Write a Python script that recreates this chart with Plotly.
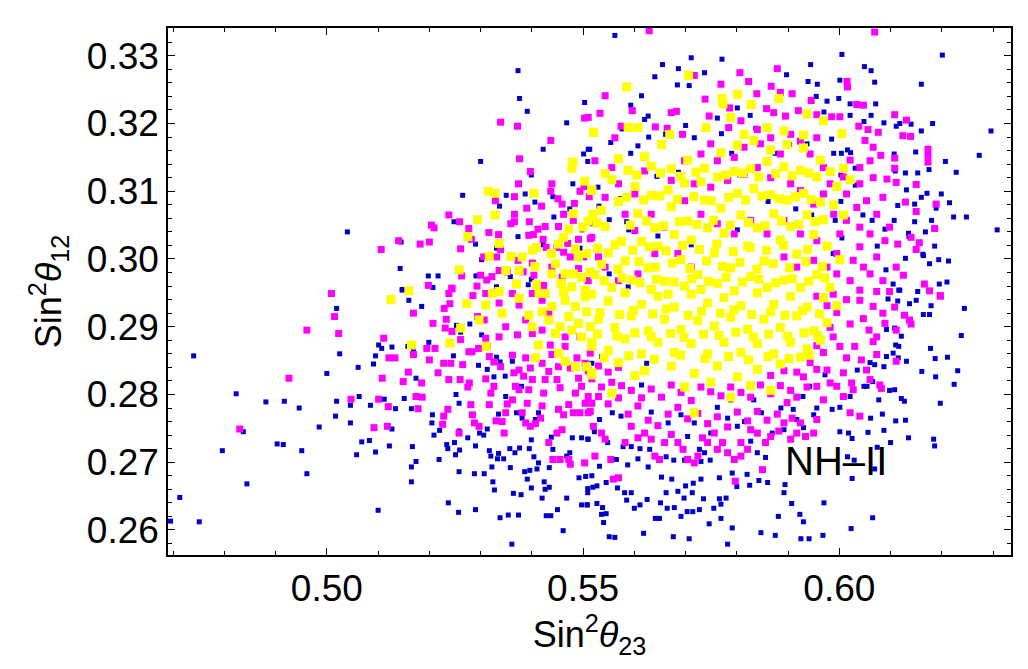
import plotly.graph_objects as go

# points (sin^2 theta23, sin^2 theta12)
blue_pts = [
    (0.5373, 0.3278), (0.5376, 0.3237), (0.5391, 0.3218), (0.5503, 0.3231), (0.5468, 0.3201),
    (0.5422, 0.3162), (0.5510, 0.3162), (0.5501, 0.3155), (0.5509, 0.3144), (0.5300, 0.3144),
    (0.5399, 0.3124), (0.5480, 0.3111), (0.5350, 0.3094), (0.5387, 0.3096), (0.5406, 0.3084),
    (0.5337, 0.3078), (0.5265, 0.3094), (0.5441, 0.3092), (0.5443, 0.3062), (0.5474, 0.3074),
    (0.5248, 0.3055), (0.5040, 0.3040), (0.5145, 0.3025), (0.5290, 0.3022), (0.5373, 0.3033),
    (0.5422, 0.3021), (0.5331, 0.3016), (0.5302, 0.2999), (0.5143, 0.2986), (0.5198, 0.2975),
    (0.5217, 0.2975), (0.5291, 0.2975), (0.5147, 0.2954), (0.5207, 0.2958), (0.5331, 0.2959),
    (0.5358, 0.2974), (0.5393, 0.2962), (0.5399, 0.2970), (0.5498, 0.3043), (0.5494, 0.3016),
    (0.5562, 0.3330), (0.5711, 0.3297), (0.5771, 0.3295), (0.5655, 0.3287), (0.5686, 0.3281),
    (0.5640, 0.3269), (0.5737, 0.3275), (0.5684, 0.3257), (0.5707, 0.3256), (0.5614, 0.3241),
    (0.5593, 0.3227), (0.5627, 0.3211), (0.5620, 0.3206), (0.5897, 0.3272), (0.5944, 0.3287),
    (0.6005, 0.3302), (0.6201, 0.3301), (0.6049, 0.3284), (0.6062, 0.3278), (0.6069, 0.3261),
    (0.6001, 0.3264), (0.5957, 0.3258), (0.5939, 0.3262), (0.6160, 0.3258), (0.5955, 0.3240),
    (0.5976, 0.3233), (0.5999, 0.3237), (0.6021, 0.3229), (0.6071, 0.3229), (0.5970, 0.3217),
    (0.6021, 0.3212), (0.6062, 0.3212), (0.6048, 0.3203), (0.6087, 0.3201), (0.6111, 0.3196),
    (0.6118, 0.3200), (0.6140, 0.3199), (0.6182, 0.3200), (0.6160, 0.3189), (0.6296, 0.3189),
    (0.6273, 0.3153), (0.6207, 0.3144), (0.6228, 0.3128), (0.6149, 0.3158), (0.6175, 0.3132),
    (0.6153, 0.3127), (0.6129, 0.3127), (0.6109, 0.3130), (0.6107, 0.3155), (0.6131, 0.3102),
    (0.6171, 0.3097), (0.6199, 0.3096), (0.6215, 0.3083), (0.6160, 0.3091), (0.6114, 0.3079),
    (0.6147, 0.3081), (0.6189, 0.3075), (0.6223, 0.3062), (0.6248, 0.3062), (0.6308, 0.3043),
    (0.6180, 0.3057), (0.6147, 0.3055), (0.6107, 0.3057), (0.6168, 0.3040), (0.6135, 0.3038),
    (0.6136, 0.3033), (0.6089, 0.3044), (0.6186, 0.3019), (0.6163, 0.3007), (0.6164, 0.3005),
    (0.6194, 0.2999), (0.6213, 0.2997), (0.6129, 0.3001), (0.6176, 0.2993), (0.6210, 0.2966),
    (0.6195, 0.2963), (0.6105, 0.2963), (0.6116, 0.2954), (0.6091, 0.2984), (0.6074, 0.3019),
    (0.6064, 0.3057), (0.6004, 0.3156), (0.6022, 0.3157), (0.5989, 0.3156), (0.6016, 0.3161),
    (0.6031, 0.3134), (0.6003, 0.3124), (0.6031, 0.3109), (0.6003, 0.3085), (0.6046, 0.3065),
    (0.5985, 0.3177), (0.5937, 0.3170), (0.5903, 0.3169), (0.5826, 0.3212), (0.5801, 0.3223),
    (0.5770, 0.3185), (0.5837, 0.3193), (0.5717, 0.3179), (0.5700, 0.3197), (0.5661, 0.3184),
    (0.5628, 0.3180), (0.5607, 0.3167), (0.5576, 0.3192), (0.5554, 0.3172), (0.5513, 0.3162),
    (0.5593, 0.3156), (0.5644, 0.3122), (0.5686, 0.3128), (0.5762, 0.3208), (0.5790, 0.3156),
    (0.5806, 0.3124), (0.5529, 0.3106), (0.5531, 0.3078), (0.5551, 0.3058), (0.5585, 0.3055),
    (0.5589, 0.3043), (0.5518, 0.3052), (0.5573, 0.3089), (0.5875, 0.3156), (0.5861, 0.3085),
    (0.5915, 0.3074), (0.5946, 0.3065), (0.5992, 0.3057), (0.6005, 0.3031), (0.5988, 0.3008),
    (0.5711, 0.3021), (0.5801, 0.3043), (0.5646, 0.3034), (0.5551, 0.2978), (0.5588, 0.2959),
    (0.4740, 0.2857), (0.4713, 0.2648), (0.4751, 0.2612), (0.4695, 0.2613), (0.4823, 0.2801),
    (0.4837, 0.2745), (0.4796, 0.2717), (0.4844, 0.2668), (0.4881, 0.2789), (0.4917, 0.2790),
    (0.4946, 0.2780), (0.4903, 0.2727), (0.4915, 0.2726), (0.4951, 0.2717), (0.4961, 0.2683),
    (0.4985, 0.2752), (0.5000, 0.2831), (0.5019, 0.2927), (0.5025, 0.2860), (0.5019, 0.2790),
    (0.5017, 0.2768), (0.5046, 0.2784), (0.5046, 0.2758), (0.5061, 0.2840), (0.5063, 0.2797),
    (0.5085, 0.2784), (0.5058, 0.2711), (0.5068, 0.2730), (0.5083, 0.2732), (0.5095, 0.2715),
    (0.5091, 0.2845), (0.5095, 0.2857), (0.5101, 0.2873), (0.5107, 0.2868), (0.5127, 0.2870),
    (0.5112, 0.2793), (0.5134, 0.2779), (0.5127, 0.2749), (0.5122, 0.2724), (0.5100, 0.2629),
    (0.5147, 0.2955), (0.5160, 0.2939), (0.5185, 0.2930), (0.5158, 0.2871), (0.5169, 0.2866),
    (0.5174, 0.2824), (0.5151, 0.2794), (0.5165, 0.2779), (0.5167, 0.2723), (0.5165, 0.2693),
    (0.5165, 0.2671), (0.5174, 0.2701), (0.5199, 0.2877), (0.5206, 0.2770), (0.5205, 0.2758),
    (0.5209, 0.2740), (0.5219, 0.2704), (0.5220, 0.2747), (0.5237, 0.2640), (0.5234, 0.2726),
    (0.5236, 0.2720), (0.5249, 0.2729), (0.5251, 0.2711), (0.5258, 0.2686), (0.5257, 0.2626),
    (0.5253, 0.2902), (0.5261, 0.2892), (0.5247, 0.2857), (0.5252, 0.2800), (0.5258, 0.2787),
    (0.5258, 0.2746), (0.5259, 0.2718), (0.5275, 0.2736), (0.5279, 0.2904), (0.5290, 0.2724),
    (0.5288, 0.2683), (0.5290, 0.2630), (0.5296, 0.2843), (0.5298, 0.2743), (0.5302, 0.2888),
    (0.5306, 0.2740), (0.5307, 0.2683), (0.5313, 0.2749), (0.5317, 0.2717), (0.5320, 0.2709),
    (0.5322, 0.2693), (0.5324, 0.2671), (0.5327, 0.2659), (0.5313, 0.2837), (0.5326, 0.2826),
    (0.5331, 0.2855), (0.5333, 0.2705), (0.5335, 0.2713), (0.5335, 0.2771), (0.5338, 0.2618),
    (0.5345, 0.2705), (0.5348, 0.2827), (0.5349, 0.2797), (0.5354, 0.2622), (0.5357, 0.2720),
    (0.5358, 0.2692), (0.5361, 0.2579), (0.5364, 0.2654), (0.5367, 0.2714), (0.5370, 0.2773),
    (0.5374, 0.2622), (0.5376, 0.2721), (0.5379, 0.2652), (0.5380, 0.2812), (0.5386, 0.2686),
    (0.5391, 0.2675), (0.5396, 0.2688), (0.5395, 0.2720), (0.5399, 0.2733), (0.5399, 0.2662),
    (0.5404, 0.2708), (0.5410, 0.2690), (0.5413, 0.2699), (0.5420, 0.2647), (0.5424, 0.2671),
    (0.5426, 0.2660), (0.5428, 0.2621), (0.5434, 0.2663), (0.5437, 0.2621), (0.5434, 0.2692),
    (0.5441, 0.2719), (0.5438, 0.2737), (0.5450, 0.2630), (0.5461, 0.2599), (0.5468, 0.2647),
    (0.5468, 0.2709), (0.5474, 0.2714), (0.5479, 0.2736), (0.5497, 0.2637), (0.5508, 0.2637),
    (0.5509, 0.2655), (0.5505, 0.2679), (0.5492, 0.2677), (0.5519, 0.2663), (0.5497, 0.2736),
    (0.5509, 0.2734), (0.5407, 0.2763), (0.5413, 0.2773), (0.5381, 0.2765), (0.5338, 0.2848),
    (0.5362, 0.2849),
    (0.6244, 0.2927), (0.6238, 0.2887), (0.6231, 0.2835), (0.6224, 0.2815), (0.6211, 0.2855),
    (0.6187, 0.2853), (0.6188, 0.2826), (0.6178, 0.2868), (0.6197, 0.2787), (0.6161, 0.2834),
    (0.6184, 0.2734), (0.6186, 0.2724), (0.6176, 0.2918), (0.6164, 0.2918), (0.6153, 0.2952),
    (0.6179, 0.2931), (0.6135, 0.2736), (0.6129, 0.2762), (0.6110, 0.2761), (0.6100, 0.2729),
    (0.6087, 0.2747), (0.6084, 0.2771), (0.6127, 0.2790), (0.6121, 0.2794), (0.6108, 0.2807),
    (0.6098, 0.2806), (0.6077, 0.2792), (0.6061, 0.2765), (0.6056, 0.2744), (0.6065, 0.2618),
    (0.6023, 0.2602), (0.6069, 0.2690), (0.6074, 0.2722), (0.6025, 0.2676), (0.6016, 0.2708),
    (0.6029, 0.2703), (0.6025, 0.2735), (0.6018, 0.2743), (0.6001, 0.2745), (0.5970, 0.2640),
    (0.5968, 0.2592), (0.5930, 0.2612), (0.5923, 0.2623), (0.5941, 0.2587), (0.5925, 0.2587),
    (0.5907, 0.2639), (0.5881, 0.2620), (0.5875, 0.2592), (0.5847, 0.2596), (0.5892, 0.2655),
    (0.5894, 0.2667), (0.5860, 0.2670), (0.5843, 0.2673), (0.5825, 0.2666), (0.5820, 0.2682),
    (0.5782, 0.2579), (0.5791, 0.2603), (0.5769, 0.2617), (0.5746, 0.2609), (0.5707, 0.2587),
    (0.5676, 0.2590), (0.5618, 0.2595), (0.5562, 0.2589), (0.5551, 0.2590), (0.5540, 0.2611),
    (0.5536, 0.2623), (0.5545, 0.2624), (0.5538, 0.2633), (0.5527, 0.2639), (0.5508, 0.2637),
    (0.5585, 0.2644), (0.5611, 0.2637), (0.5600, 0.2632), (0.5641, 0.2617), (0.5649, 0.2617),
    (0.5664, 0.2632), (0.5678, 0.2633), (0.5691, 0.2620), (0.5703, 0.2627), (0.5714, 0.2627),
    (0.5727, 0.2630), (0.5755, 0.2632), (0.5769, 0.2638), (0.5779, 0.2647), (0.5766, 0.2646),
    (0.5735, 0.2646), (0.5713, 0.2655), (0.5697, 0.2647), (0.5685, 0.2657), (0.5662, 0.2655),
    (0.5651, 0.2640), (0.5625, 0.2645), (0.5594, 0.2655), (0.5581, 0.2655), (0.5567, 0.2662),
    (0.5545, 0.2670), (0.5527, 0.2665), (0.5509, 0.2661), (0.5517, 0.2680), (0.5532, 0.2694),
    (0.5565, 0.2704), (0.5587, 0.2696), (0.5607, 0.2705), (0.5627, 0.2693), (0.5653, 0.2678),
    (0.5673, 0.2675), (0.5700, 0.2665), (0.5715, 0.2669), (0.5730, 0.2675), (0.5766, 0.2677),
    (0.5800, 0.2664), (0.5791, 0.2684), (0.5748, 0.2703), (0.5730, 0.2701), (0.5698, 0.2703),
    (0.5677, 0.2703), (0.5662, 0.2708), (0.5630, 0.2719), (0.5611, 0.2720), (0.5594, 0.2723),
    (0.5578, 0.2723), (0.5548, 0.2729), (0.5522, 0.2745), (0.5510, 0.2734), (0.5532, 0.2763),
    (0.5557, 0.2773), (0.5574, 0.2768), (0.5633, 0.2774), (0.5666, 0.2758), (0.5691, 0.2770),
    (0.5717, 0.2758), (0.5749, 0.2743), (0.5782, 0.2765), (0.5801, 0.2753), (0.5827, 0.2731),
    (0.5840, 0.2714), (0.5856, 0.2707), (0.5869, 0.2743), (0.5892, 0.2748), (0.5917, 0.2763),
    (0.5930, 0.2751), (0.5950, 0.2770), (0.5956, 0.2780), (0.5986, 0.2778), (0.6001, 0.2781),
    (0.6021, 0.2797), (0.6048, 0.2812), (0.6054, 0.2812), (0.6065, 0.2819), (0.6069, 0.2844),
    (0.6087, 0.2841), (0.6092, 0.2856), (0.6105, 0.2861), (0.6115, 0.2854), (0.6131, 0.2849),
    (0.6116, 0.2871), (0.6110, 0.2873), (0.6121, 0.2886), (0.6108, 0.2898), (0.6092, 0.2896),
    (0.6118, 0.2954), (0.6114, 0.2938), (0.6095, 0.2941), (0.6150, 0.2939), (0.6137, 0.2910),
    (0.6137, 0.2934), (0.6035, 0.2836), (0.6060, 0.2847), (0.5972, 0.2829), (0.5942, 0.2812),
    (0.5929, 0.2797), (0.5910, 0.2778), (0.5886, 0.2780), (0.5848, 0.2773), (0.5833, 0.2792),
    (0.5815, 0.2760), (0.5788, 0.2792), (0.5762, 0.2781), (0.5704, 0.2738), (0.5727, 0.2719),
    (0.5737, 0.2714), (0.5614, 0.2814), (0.5591, 0.2855), (0.5624, 0.2846), (0.5536, 0.2856),
    (0.5517, 0.2846),
]

magenta_pts = [
    (0.5339, 0.3202), (0.5372, 0.3196), (0.5503, 0.3208), (0.5437, 0.3175), (0.5376, 0.3148),
    (0.5397, 0.3129), (0.5374, 0.3111), (0.5439, 0.3111), (0.5366, 0.3092), (0.5329, 0.3086),
    (0.5390, 0.3075), (0.5419, 0.3078), (0.5437, 0.3100), (0.5451, 0.3089), (0.5459, 0.3081),
    (0.5494, 0.3100), (0.5502, 0.3107), (0.5512, 0.3092), (0.5483, 0.3082), (0.5366, 0.3066),
    (0.5366, 0.3055), (0.5395, 0.3055), (0.5412, 0.3044), (0.5426, 0.3048), (0.5452, 0.3048),
    (0.5462, 0.3066), (0.5481, 0.3057), (0.5359, 0.3052), (0.5238, 0.3065), (0.5259, 0.3055),
    (0.5204, 0.3050), (0.5209, 0.3046), (0.5277, 0.3045), (0.5282, 0.3029), (0.5261, 0.3015),
    (0.5316, 0.3039), (0.5335, 0.3036), (0.5339, 0.3014), (0.5394, 0.3035), (0.5403, 0.3036),
    (0.5422, 0.3029), (0.5428, 0.3017), (0.5449, 0.3017), (0.5470, 0.3023), (0.5491, 0.3029),
    (0.5514, 0.3030), (0.5140, 0.3027), (0.5106, 0.3014), (0.5182, 0.3022), (0.5200, 0.3025),
    (0.5306, 0.3003), (0.5331, 0.3003), (0.5352, 0.2981), (0.5383, 0.2981), (0.5404, 0.2976),
    (0.5423, 0.2961), (0.5462, 0.3010), (0.5475, 0.3003), (0.5501, 0.3003), (0.5263, 0.2975),
    (0.5293, 0.2960), (0.5300, 0.2976), (0.5312, 0.2969), (0.5322, 0.2974), (0.5198, 0.2961),
    (0.5244, 0.2956), (0.5238, 0.2949), (0.5285, 0.2946), (0.5009, 0.2949), (0.5336, 0.2983),
    (0.5373, 0.2998), (0.5401, 0.2994), (0.5439, 0.2988), (0.5459, 0.2973), (0.5491, 0.2986),
    (0.5510, 0.2968),
    (0.5015, 0.2915), (0.5023, 0.2890), (0.4961, 0.2895), (0.4926, 0.2824), (0.4830, 0.2749),
    (0.5047, 0.2793), (0.5101, 0.2793), (0.5092, 0.2751), (0.5118, 0.2753), (0.5120, 0.2782),
    (0.5108, 0.2824), (0.5111, 0.2883), (0.5121, 0.2854), (0.5133, 0.2854), (0.5149, 0.2819),
    (0.5159, 0.2833), (0.5169, 0.2920), (0.5169, 0.2859), (0.5185, 0.2817), (0.5174, 0.2797),
    (0.5186, 0.2796), (0.5178, 0.2779), (0.5195, 0.2868), (0.5211, 0.2868), (0.5200, 0.2851),
    (0.5207, 0.2905), (0.5233, 0.2911), (0.5229, 0.2927), (0.5240, 0.2934), (0.5244, 0.2957),
    (0.5231, 0.2898), (0.5244, 0.2893), (0.5261, 0.2881), (0.5217, 0.2832), (0.5228, 0.2846),
    (0.5242, 0.2846), (0.5238, 0.2822), (0.5260, 0.2822), (0.5265, 0.2844), (0.5277, 0.2863),
    (0.5283, 0.2863), (0.5275, 0.2811), (0.5228, 0.2768), (0.5226, 0.2756), (0.5236, 0.2778),
    (0.5258, 0.2743), (0.5278, 0.2817), (0.5281, 0.2785), (0.5284, 0.2770), (0.5288, 0.2758),
    (0.5297, 0.2753), (0.5294, 0.2915), (0.5307, 0.2910), (0.5310, 0.2883), (0.5313, 0.2871),
    (0.5296, 0.2868), (0.5317, 0.2856), (0.5326, 0.2848), (0.5310, 0.2823), (0.5320, 0.2802),
    (0.5317, 0.2785), (0.5326, 0.2812), (0.5330, 0.2761), (0.5342, 0.2760), (0.5346, 0.2743),
    (0.5349, 0.2773), (0.5352, 0.2786), (0.5362, 0.2792), (0.5368, 0.2812), (0.5375, 0.2807),
    (0.5365, 0.2832), (0.5375, 0.2836), (0.5384, 0.2827), (0.5339, 0.2841), (0.5362, 0.2858),
    (0.5388, 0.2854), (0.5397, 0.2839), (0.5401, 0.2822), (0.5394, 0.2807), (0.5391, 0.2787),
    (0.5381, 0.2773), (0.5388, 0.2758), (0.5397, 0.2753), (0.5407, 0.2757), (0.5417, 0.2765),
    (0.5420, 0.2783), (0.5423, 0.2802), (0.5426, 0.2822), (0.5433, 0.2834), (0.5420, 0.2846),
    (0.5439, 0.2859), (0.5452, 0.2841), (0.5449, 0.2822), (0.5455, 0.2810), (0.5452, 0.2778),
    (0.5462, 0.2770), (0.5459, 0.2748), (0.5449, 0.2743), (0.5433, 0.2729), (0.5441, 0.2704),
    (0.5455, 0.2704), (0.5472, 0.2704), (0.5475, 0.2697), (0.5503, 0.2699), (0.5472, 0.2785),
    (0.5481, 0.2773), (0.5494, 0.2773), (0.5504, 0.2787), (0.5514, 0.2775), (0.5485, 0.2802),
    (0.5497, 0.2812), (0.5510, 0.2797), (0.5491, 0.2824), (0.5475, 0.2839), (0.5488, 0.2854),
    (0.5504, 0.2846), (0.5514, 0.2832), (0.5514, 0.2861), (0.5372, 0.2888), (0.5401, 0.2890),
    (0.5388, 0.2910), (0.5349, 0.2900), (0.5336, 0.2935), (0.5362, 0.2949), (0.5375, 0.2932),
    (0.5401, 0.2949), (0.5420, 0.2939), (0.5433, 0.2920), (0.5436, 0.2873), (0.5465, 0.2885),
    (0.5465, 0.2871), (0.5494, 0.2885), (0.5336, 0.2885), (0.5310, 0.2949), (0.5420, 0.2895),
    (0.6197, 0.2945), (0.6176, 0.2953), (0.6137, 0.2910), (0.6127, 0.2917), (0.6140, 0.2904),
    (0.6111, 0.2895), (0.6108, 0.2929), (0.6098, 0.2952), (0.6073, 0.2952), (0.6066, 0.2930),
    (0.6073, 0.2885), (0.6066, 0.2878), (0.6073, 0.2859), (0.6085, 0.2920), (0.6089, 0.2905),
    (0.6058, 0.2895), (0.6047, 0.2912), (0.6040, 0.2939), (0.6030, 0.2871), (0.6043, 0.2851),
    (0.6053, 0.2836), (0.6060, 0.2822), (0.6079, 0.2814), (0.6082, 0.2809), (0.6111, 0.2849),
    (0.6024, 0.2817), (0.6027, 0.2807), (0.6040, 0.2768), (0.6021, 0.2773), (0.6008, 0.2797),
    (0.5995, 0.2812), (0.5982, 0.2817), (0.6008, 0.2832), (0.6014, 0.2854), (0.6001, 0.2871),
    (0.5988, 0.2885), (0.5976, 0.2836), (0.5969, 0.2792), (0.5956, 0.2812), (0.5956, 0.2763),
    (0.5950, 0.2743), (0.5934, 0.2738), (0.5924, 0.2758), (0.5917, 0.2743), (0.5905, 0.2734),
    (0.5908, 0.2765), (0.5892, 0.2758), (0.5882, 0.2746), (0.5866, 0.2738), (0.5856, 0.2729),
    (0.5850, 0.2689), (0.5840, 0.2743), (0.5827, 0.2748), (0.5821, 0.2719), (0.5808, 0.2729),
    (0.5808, 0.2709), (0.5795, 0.2704), (0.5797, 0.2672), (0.5782, 0.2714), (0.5772, 0.2729),
    (0.5762, 0.2719), (0.5756, 0.2743), (0.5743, 0.2729), (0.5733, 0.2736), (0.5724, 0.2709),
    (0.5717, 0.2699), (0.5704, 0.2704), (0.5695, 0.2719), (0.5685, 0.2729), (0.5672, 0.2741),
    (0.5659, 0.2729), (0.5649, 0.2704), (0.5640, 0.2709), (0.5633, 0.2734), (0.5620, 0.2743),
    (0.5607, 0.2736), (0.5594, 0.2753), (0.5582, 0.2729), (0.5569, 0.2677), (0.5559, 0.2675),
    (0.5554, 0.2704), (0.5543, 0.2734), (0.5536, 0.2743), (0.5523, 0.2709), (0.5520, 0.2753),
    (0.5510, 0.2773), (0.5517, 0.2787), (0.5530, 0.2797), (0.5549, 0.2786), (0.5569, 0.2795),
    (0.5588, 0.2771), (0.5607, 0.2783), (0.5627, 0.2762), (0.5646, 0.2754), (0.5666, 0.2771),
    (0.5685, 0.2781), (0.5704, 0.2764), (0.5724, 0.2772), (0.5743, 0.2757), (0.5762, 0.2767),
    (0.5782, 0.2752), (0.5801, 0.2774), (0.5821, 0.2761), (0.5840, 0.2775), (0.5859, 0.2762),
    (0.5879, 0.2771), (0.5898, 0.2788), (0.5917, 0.2796), (0.5937, 0.2811), (0.5956, 0.2837),
    (0.5969, 0.2862), (0.5982, 0.2899), (0.5995, 0.2921), (0.6014, 0.2940), (0.6021, 0.2904),
    (0.5905, 0.2806), (0.5885, 0.2813), (0.5866, 0.2801), (0.5846, 0.2814), (0.5827, 0.2796),
    (0.5808, 0.2803), (0.5788, 0.2811), (0.5769, 0.2798), (0.5749, 0.2804), (0.5730, 0.2811),
    (0.5711, 0.2791), (0.5691, 0.2803), (0.5672, 0.2814), (0.5653, 0.2796), (0.5633, 0.2808),
    (0.5614, 0.2795), (0.5594, 0.2806), (0.5575, 0.2813), (0.5556, 0.2818), (0.5536, 0.2811),
    (0.5517, 0.2823), (0.5510, 0.2835), (0.5530, 0.2842), (0.5549, 0.2833), (0.5569, 0.2840),
    (0.5943, 0.2847), (0.5930, 0.2826), (0.5917, 0.2833), (0.5956, 0.2872), (0.5976, 0.2931),
    (0.5956, 0.2945), (0.5988, 0.2948), (0.5866, 0.2828), (0.5892, 0.2835),
    (0.6069, 0.3335), (0.5629, 0.3337), (0.5806, 0.3275), (0.5823, 0.3262), (0.5879, 0.3281),
    (0.5769, 0.3258), (0.5717, 0.3271), (0.5839, 0.3244), (0.5867, 0.3255), (0.5885, 0.3246),
    (0.5908, 0.3244), (0.6015, 0.3262), (0.6016, 0.3254), (0.5945, 0.3234), (0.5920, 0.3219),
    (0.5858, 0.3222), (0.5786, 0.3223), (0.5738, 0.3236), (0.5682, 0.3218), (0.5672, 0.3216),
    (0.5543, 0.3241), (0.5533, 0.3215), (0.5596, 0.3219), (0.5574, 0.3196), (0.5641, 0.3195),
    (0.5664, 0.3193), (0.5694, 0.3184), (0.5746, 0.3211), (0.5784, 0.3194), (0.5808, 0.3204),
    (0.5840, 0.3191), (0.5872, 0.3216), (0.5895, 0.3211), (0.5956, 0.3213), (0.5985, 0.3210),
    (0.6001, 0.3210), (0.6034, 0.3228), (0.6047, 0.3227), (0.6038, 0.3196), (0.6056, 0.3191),
    (0.6108, 0.3213), (0.6131, 0.3205), (0.6124, 0.3182), (0.6139, 0.3181), (0.6076, 0.3187),
    (0.6050, 0.3175), (0.6066, 0.3165), (0.6081, 0.3153), (0.6108, 0.3149), (0.6108, 0.3134),
    (0.6093, 0.3118), (0.6111, 0.3113), (0.6150, 0.3110), (0.6173, 0.3162), (0.6173, 0.3153),
    (0.6173, 0.3143), (0.6129, 0.3084), (0.6150, 0.3070), (0.6186, 0.3045), (0.6189, 0.3081),
    (0.6156, 0.3024), (0.6150, 0.3014), (0.6166, 0.2963), (0.6197, 0.2946), (0.6125, 0.2976),
    (0.6111, 0.2988), (0.6140, 0.3032), (0.6114, 0.3022), (0.6089, 0.3027), (0.6073, 0.3003),
    (0.6060, 0.2978), (0.6085, 0.2968), (0.6098, 0.3047), (0.6073, 0.3066), (0.6053, 0.3086),
    (0.6085, 0.3091), (0.6066, 0.3120), (0.6040, 0.3111), (0.6040, 0.3135), (0.6060, 0.3145),
    (0.6021, 0.3146), (0.6008, 0.3121), (0.6014, 0.3096), (0.6034, 0.3076), (0.6040, 0.3047),
    (0.6060, 0.3037), (0.6040, 0.3018), (0.6027, 0.2998), (0.6047, 0.2988), (0.6021, 0.2968),
    (0.6040, 0.2954), (0.6001, 0.3037), (0.6014, 0.3057), (0.5989, 0.3066), (0.5995, 0.3008),
    (0.5976, 0.2988), (0.5995, 0.2978), (0.5510, 0.3209), (0.5523, 0.3145), (0.5562, 0.3179),
    (0.5556, 0.3135), (0.5569, 0.3111), (0.5543, 0.3091), (0.5517, 0.3032), (0.5530, 0.3003),
    (0.5543, 0.2988), (0.5582, 0.3066), (0.5601, 0.3096), (0.5620, 0.3130), (0.5601, 0.3042),
    (0.5633, 0.3066), (0.5659, 0.3047), (0.5640, 0.3008), (0.5672, 0.3116), (0.5698, 0.3145),
    (0.5730, 0.3155), (0.5749, 0.3170), (0.5762, 0.3145), (0.5795, 0.3150), (0.5814, 0.3165),
    (0.5846, 0.3170), (0.5866, 0.3179), (0.5885, 0.3155), (0.5905, 0.3184), (0.5924, 0.3174),
    (0.5943, 0.3155), (0.5956, 0.3179), (0.5969, 0.3135), (0.5982, 0.3111), (0.5969, 0.3096),
    (0.5950, 0.3081), (0.5924, 0.3101), (0.5905, 0.3111), (0.5866, 0.3120), (0.5840, 0.3135),
    (0.5814, 0.3125), (0.5782, 0.3116), (0.5749, 0.3106), (0.5717, 0.3111), (0.5698, 0.3086),
    (0.5730, 0.3066), (0.5762, 0.3052), (0.5795, 0.3037), (0.5827, 0.3057), (0.5859, 0.3037),
    (0.5892, 0.3057), (0.5924, 0.3037), (0.5956, 0.3027), (0.5950, 0.2998), (0.5917, 0.2988),
    (0.5892, 0.3003), (0.5685, 0.3008), (0.5711, 0.2988), (0.5569, 0.2968), (0.5607, 0.2978),
]

yellow_pts = [
    (0.5520, 0.3187), (0.5480, 0.3143), (0.5478, 0.3134), (0.5503, 0.3115), (0.5315, 0.3100),
    (0.5328, 0.3097), (0.5404, 0.3097), (0.5517, 0.3102), (0.5328, 0.3065), (0.5294, 0.3058),
    (0.5275, 0.3033), (0.5519, 0.3066), (0.5481, 0.3067), (0.5472, 0.3044), (0.5499, 0.3047),
    (0.5462, 0.3032), (0.5336, 0.3023), (0.5401, 0.3013), (0.5409, 0.3017), (0.5438, 0.3008),
    (0.5485, 0.3015), (0.5507, 0.3008), (0.5317, 0.3004), (0.5359, 0.3004), (0.5381, 0.3003),
    (0.5406, 0.2989), (0.5439, 0.2978), (0.5465, 0.2978), (0.5481, 0.2978), (0.5497, 0.2973),
    (0.5514, 0.2981), (0.5457, 0.2964), (0.5478, 0.2959), (0.5504, 0.2954), (0.5258, 0.2984),
    (0.5160, 0.2953), (0.5349, 0.2983), (0.5375, 0.2983), (0.5370, 0.2963), (0.5409, 0.2962),
    (0.5426, 0.2949), (0.5323, 0.2949), (0.5446, 0.2993), (0.5452, 0.3022), (0.5491, 0.3003),
    (0.5125, 0.2940), (0.5261, 0.2898), (0.5240, 0.2876), (0.5165, 0.2873), (0.5273, 0.2934),
    (0.5297, 0.2910), (0.5311, 0.2871), (0.5342, 0.2920), (0.5375, 0.2942), (0.5394, 0.2917),
    (0.5401, 0.2900), (0.5414, 0.2949), (0.5420, 0.2922), (0.5433, 0.2910), (0.5439, 0.2930),
    (0.5446, 0.2890), (0.5455, 0.2900), (0.5462, 0.2952), (0.5465, 0.2939), (0.5472, 0.2915),
    (0.5478, 0.2895), (0.5485, 0.2930), (0.5491, 0.2905), (0.5497, 0.2885), (0.5504, 0.2944),
    (0.5507, 0.2922), (0.5514, 0.2900), (0.5517, 0.2871), (0.5407, 0.2854), (0.5413, 0.2873),
    (0.5452, 0.2861), (0.5465, 0.2849), (0.5485, 0.2841), (0.5507, 0.2841), (0.5517, 0.2829),
    (0.5336, 0.2952), (0.5310, 0.2932),
    (0.5585, 0.3254), (0.5706, 0.3271), (0.5801, 0.3243), (0.5771, 0.3237), (0.5773, 0.3229),
    (0.5828, 0.3228), (0.5882, 0.3237), (0.5788, 0.3209), (0.5740, 0.3194), (0.5607, 0.3194),
    (0.5588, 0.3194), (0.5521, 0.3187), (0.5669, 0.3184), (0.5937, 0.3214), (0.5969, 0.3204),
    (0.6005, 0.3185), (0.5859, 0.3194), (0.5892, 0.3189), (0.5814, 0.3184), (0.5653, 0.3169),
    (0.5620, 0.3151), (0.5569, 0.3148), (0.5543, 0.3126), (0.5517, 0.3101), (0.5556, 0.3117),
    (0.5588, 0.3131), (0.5633, 0.3137), (0.5672, 0.3133), (0.5704, 0.3146), (0.5737, 0.3134),
    (0.5769, 0.3157), (0.5801, 0.3168), (0.5833, 0.3175), (0.5866, 0.3161), (0.5898, 0.3169),
    (0.5930, 0.3164), (0.5963, 0.3146), (0.5982, 0.3129), (0.5956, 0.3121), (0.5924, 0.3131),
    (0.5892, 0.3136), (0.5859, 0.3144), (0.5827, 0.3133), (0.5795, 0.3129), (0.5762, 0.3121),
    (0.5730, 0.3114), (0.5698, 0.3112), (0.5666, 0.3102), (0.5633, 0.3094), (0.5601, 0.3107),
    (0.5569, 0.3085), (0.5536, 0.3072), (0.5510, 0.3056), (0.5543, 0.3048), (0.5575, 0.3026),
    (0.5607, 0.3067), (0.5640, 0.3046), (0.5672, 0.3077), (0.5704, 0.3056), (0.5737, 0.3087),
    (0.5769, 0.3075), (0.5801, 0.3097), (0.5833, 0.3104), (0.5866, 0.3095), (0.5898, 0.3087),
    (0.5930, 0.3097), (0.5963, 0.3084), (0.5995, 0.3107), (0.5989, 0.3080), (0.5969, 0.3058),
    (0.5937, 0.3065), (0.5905, 0.3048), (0.5872, 0.3067), (0.5840, 0.3046), (0.5808, 0.3065),
    (0.5775, 0.3038), (0.5743, 0.3046), (0.5711, 0.3028), (0.5678, 0.3036), (0.5646, 0.3019),
    (0.5614, 0.3026), (0.5582, 0.2997), (0.5549, 0.3009), (0.5523, 0.2977), (0.5556, 0.2958),
    (0.5595, 0.2969), (0.5627, 0.2987), (0.5659, 0.2967), (0.5691, 0.2999), (0.5724, 0.2977),
    (0.5756, 0.3009), (0.5788, 0.2987), (0.5821, 0.3019), (0.5853, 0.2997), (0.5885, 0.3028),
    (0.5917, 0.3007), (0.5950, 0.3036), (0.5976, 0.3019), (0.5956, 0.2977), (0.5924, 0.2958),
    (0.5892, 0.2969), (0.5859, 0.2958), (0.5827, 0.2974), (0.5795, 0.2953), (0.5762, 0.2964),
    (0.5730, 0.2955), (0.5698, 0.2960), (0.5666, 0.2948), (0.5633, 0.2955), (0.5930, 0.3183),
    (0.6008, 0.3134), (0.6021, 0.3117), (0.6008, 0.3065), (0.6001, 0.2999), (0.5982, 0.2958),
    (0.5517, 0.2948), (0.5549, 0.2938), (0.5582, 0.2950), (0.5614, 0.2933), (0.5646, 0.2945),
    (0.5678, 0.2929), (0.5711, 0.2948), (0.5743, 0.2935), (0.5775, 0.2943), (0.5808, 0.2931),
    (0.5840, 0.2950), (0.5872, 0.2933), (0.5905, 0.2945), (0.5937, 0.2929), (0.5969, 0.2943),
    (0.5995, 0.2931), (0.5530, 0.2911), (0.5562, 0.2899), (0.5594, 0.2916), (0.5627, 0.2894),
    (0.5659, 0.2911), (0.5691, 0.2896), (0.5724, 0.2909), (0.5756, 0.2901), (0.5788, 0.2914),
    (0.5821, 0.2896), (0.5853, 0.2911), (0.5885, 0.2899), (0.5917, 0.2916), (0.5950, 0.2894),
    (0.5976, 0.2906), (0.5517, 0.2877), (0.5549, 0.2865), (0.5582, 0.2882), (0.5614, 0.2860),
    (0.5646, 0.2877), (0.5678, 0.2862), (0.5711, 0.2875), (0.5743, 0.2860), (0.5775, 0.2877),
    (0.5808, 0.2862), (0.5840, 0.2875), (0.5872, 0.2860), (0.5905, 0.2877), (0.5937, 0.2867),
    (0.5963, 0.2880), (0.5569, 0.2847), (0.5620, 0.2835), (0.5672, 0.2842), (0.5717, 0.2831),
    (0.5762, 0.2842), (0.5801, 0.2826), (0.5840, 0.2837), (0.5885, 0.2845), (0.5924, 0.2855),
    (0.5698, 0.2811), (0.5749, 0.2818), (0.5788, 0.2796), (0.5827, 0.2813), (0.5866, 0.2806),
    (0.5717, 0.2773), (0.5556, 0.2802), (0.5601, 0.2828), (0.5517, 0.2832),
    # in-between points of the dense core
    (0.5533, 0.2921), (0.5571, 0.2918), (0.5598, 0.2924), (0.5636, 0.2919), (0.5662, 0.2926),
    (0.5705, 0.2917), (0.5731, 0.2923), (0.5768, 0.2920), (0.5794, 0.2925), (0.5829, 0.2918),
    (0.5866, 0.2922), (0.5894, 0.2917), (0.5928, 0.2924), (0.5961, 0.2919),
    (0.5528, 0.2889), (0.5566, 0.2886), (0.5601, 0.2891), (0.5633, 0.2885), (0.5671, 0.2890),
    (0.5697, 0.2884), (0.5735, 0.2889), (0.5765, 0.2887), (0.5798, 0.2892), (0.5832, 0.2885),
    (0.5862, 0.2889), (0.5899, 0.2886), (0.5931, 0.2891), (0.5958, 0.2887),
    (0.5541, 0.2854), (0.5589, 0.2857), (0.5639, 0.2852), (0.5690, 0.2858), (0.5738, 0.2853),
    (0.5784, 0.2856), (0.5823, 0.2851), (0.5861, 0.2856), (0.5902, 0.2853), (0.5941, 0.2858),
    (0.5536, 0.2992), (0.5568, 0.2985), (0.5609, 0.2996), (0.5641, 0.2988), (0.5674, 0.2994),
    (0.5708, 0.2986), (0.5741, 0.2997), (0.5772, 0.2989), (0.5806, 0.2995), (0.5839, 0.2985),
    (0.5871, 0.2993), (0.5903, 0.2987), (0.5935, 0.2996), (0.5967, 0.2989),
    (0.5528, 0.3016), (0.5562, 0.3021), (0.5597, 0.3013), (0.5629, 0.3018), (0.5662, 0.3012),
    (0.5694, 0.3020), (0.5727, 0.3014), (0.5761, 0.3022), (0.5793, 0.3011), (0.5826, 0.3017),
    (0.5858, 0.3013), (0.5891, 0.3020), (0.5938, 0.3014),
    (0.5527, 0.3053), (0.5592, 0.3050), (0.5624, 0.3056), (0.5657, 0.3049), (0.5688, 0.3055),
    (0.5722, 0.3051), (0.5754, 0.3057), (0.5787, 0.3050), (0.5823, 0.3054), (0.5855, 0.3049),
    (0.5887, 0.3056), (0.5921, 0.3051), (0.5953, 0.3055),
    (0.5585, 0.3091), (0.5618, 0.3087), (0.5650, 0.3093), (0.5684, 0.3088), (0.5716, 0.3092),
    (0.5750, 0.3086), (0.5784, 0.3091), (0.5817, 0.3087), (0.5849, 0.3093), (0.5882, 0.3089),
    (0.5914, 0.3092), (0.5945, 0.3088),
    (0.5605, 0.3124), (0.5651, 0.3127), (0.5690, 0.3122), (0.5720, 0.3128), (0.5778, 0.3124),
    (0.5811, 0.3127), (0.5843, 0.3121), (0.5876, 0.3126), (0.5908, 0.3123), (0.5940, 0.3127),
    (0.5541, 0.2968), (0.5576, 0.2972), (0.5611, 0.2965), (0.5643, 0.2970), (0.5678, 0.2966),
    (0.5712, 0.2971), (0.5745, 0.2967), (0.5779, 0.2973), (0.5811, 0.2966), (0.5843, 0.2970),
    (0.5876, 0.2965), (0.5908, 0.2971), (0.5940, 0.2967), (0.5972, 0.2972),
]

blue_x = [p[0] for p in blue_pts]
blue_y = [p[1] for p in blue_pts]
magenta_x = [p[0] for p in magenta_pts]
magenta_y = [p[1] for p in magenta_pts]
yellow_x = [p[0] for p in yellow_pts]
yellow_y = [p[1] for p in yellow_pts]

font_name = "Liberation Sans, Arial, sans-serif"

fig = go.Figure()
fig.add_trace(go.Scatter(x=blue_x, y=blue_y, mode="markers",
                         marker=dict(symbol="square", size=5, color="#0000cc"),
                         showlegend=False))
fig.add_trace(go.Scatter(x=magenta_x, y=magenta_y, mode="markers",
                         marker=dict(symbol="square", size=7, color="#ff00ff"),
                         showlegend=False))
fig.add_trace(go.Scatter(x=yellow_x, y=yellow_y, mode="markers",
                         marker=dict(symbol="square", size=9, color="#ffff00"),
                         showlegend=False))

fig.add_annotation(x=0.5993, y=0.2702, text="NH–II", showarrow=False,
                   font=dict(family=font_name, size=40, color="black"))

axis_style = dict(showline=True, linecolor="black", linewidth=1.5, mirror="ticks",
                  ticks="inside", ticklen=7, tickwidth=1, tickcolor="black",
                  showgrid=False, zeroline=False,
                  tickfont=dict(family=font_name, size=37, color="black"))

fig.update_layout(
    width=1028, height=669,
    margin=dict(l=160, r=25, t=20, b=122),
    plot_bgcolor="white", paper_bgcolor="white",
    xaxis=dict(range=[0.469, 0.6335], tickvals=[0.50, 0.55, 0.60], tickformat=".2f",
               minor=dict(ticks="inside", ticklen=4, dtick=0.01, tick0=0.5, tickcolor="black"),
               title=dict(text="Sin<sup>2</sup><i>θ</i><sub>23</sub>", standoff=8,
                          font=dict(family=font_name, size=36, color="black")),
               **axis_style),
    yaxis=dict(range=[0.2563, 0.3341], dtick=0.01, tickformat=".2f",
               minor=dict(ticks="inside", ticklen=4, dtick=0.002, tick0=0.26, tickcolor="black"),
               title=dict(text="Sin<sup>2</sup><i>θ</i><sub>12</sub>", standoff=14,
                          font=dict(family=font_name, size=36, color="black")),
               **axis_style),
)

fig.write_html("out.html")
